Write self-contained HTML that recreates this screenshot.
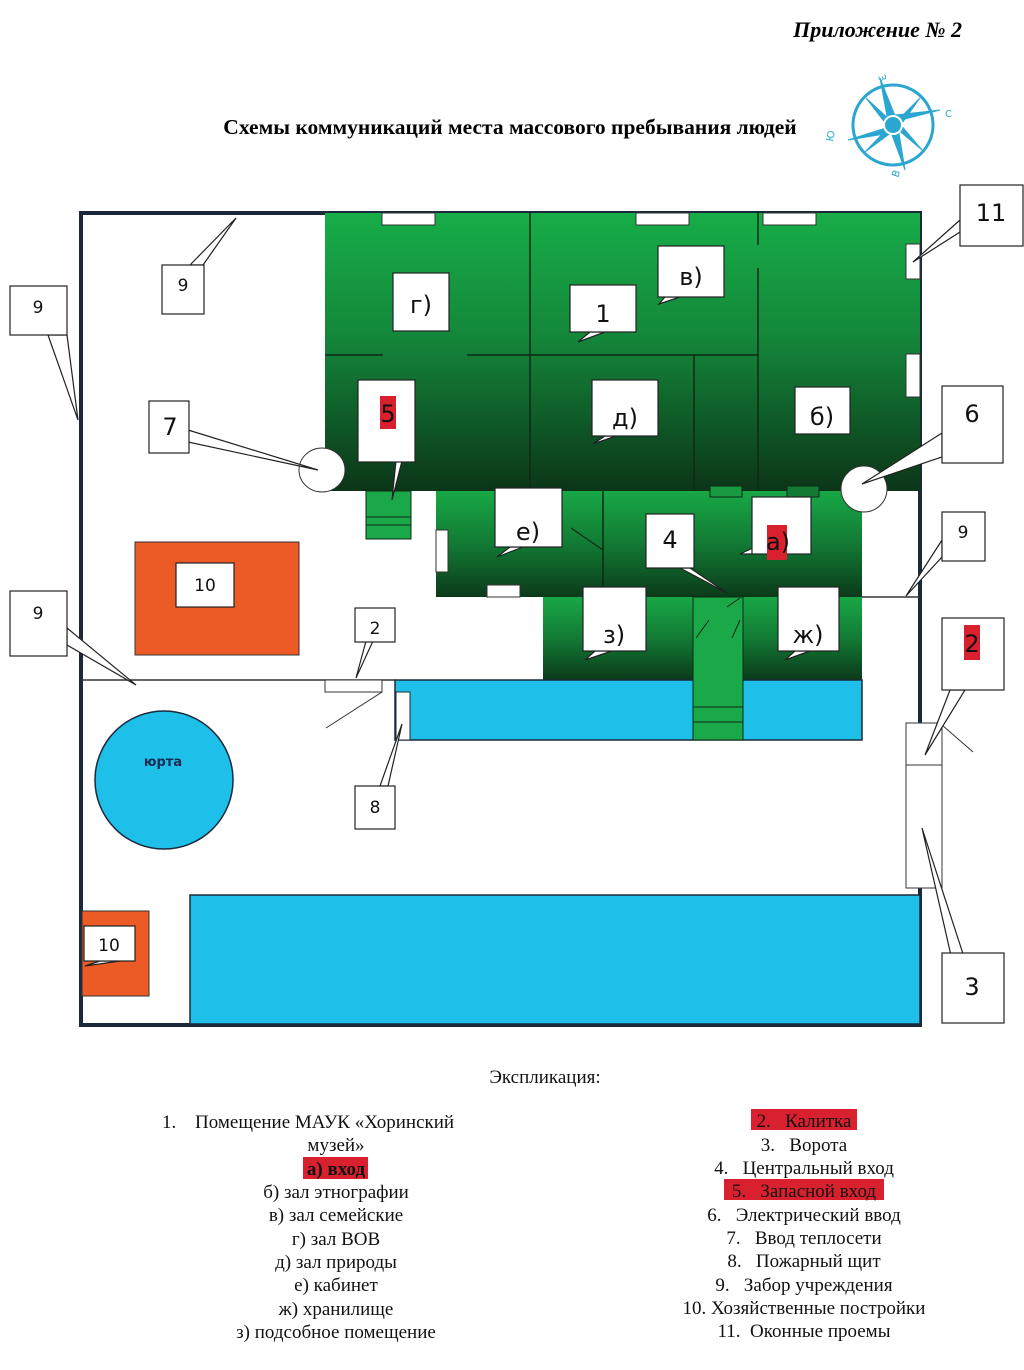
<!DOCTYPE html>
<html><head><meta charset="utf-8"><style>
html,body{margin:0;padding:0;background:#fff;}
svg{display:block;}
text{font-family:"Liberation Serif",serif;white-space:pre;}
.s{font-family:"DejaVu Sans","Liberation Sans",sans-serif;}
</style></head><body>
<svg width="1024" height="1370" viewBox="0 0 1024 1370" xmlns="http://www.w3.org/2000/svg" xml:space="preserve">
<defs>
<linearGradient id="g1" x1="0" y1="0" x2="0" y2="1">
<stop offset="0" stop-color="#17ad48"/><stop offset="0.45" stop-color="#14863a"/><stop offset="1" stop-color="#0b3518"/>
</linearGradient>
<linearGradient id="g2" x1="0" y1="0" x2="0" y2="1">
<stop offset="0" stop-color="#18a846"/><stop offset="0.5" stop-color="#127a34"/><stop offset="1" stop-color="#0b3a1a"/>
</linearGradient>
</defs>

<text x="962" y="37" font-size="22" font-weight="bold" font-style="italic" text-anchor="end">Приложение № 2</text>
<text x="510" y="134" font-size="21.5" font-weight="bold" text-anchor="middle">Схемы коммуникаций места массового пребывания людей</text>

<!-- compass -->
<g stroke="#2aa6d0" fill="#2aa6d0">
<circle cx="893" cy="125" r="40" fill="none" stroke-width="3"/>
<polygon points="880,78 897,121 889,127" /><polygon points="905,170 889,127 897,121"/>
<polygon points="848,140 889,127 891,133"/><polygon points="940,110 897,121 895,115"/>
<polygon points="866,98 890,120 886,124" /><polygon points="922,150 896,128 900,124"/>
<polygon points="865,152 888,128 892,132"/><polygon points="920,98 896,122 900,126"/>
<circle cx="893" cy="125" r="9" fill="#2aa6d0" stroke="#fff" stroke-width="2"/>
</g>
<text x="878" y="76" font-size="10" fill="#2aa6d0" class="s" transform="rotate(70 878 76)">З</text>
<text x="945" y="117" font-size="10" fill="#2aa6d0" class="s">С</text>
<text x="898" y="178" font-size="10" fill="#2aa6d0" class="s" transform="rotate(-70 898 178)">В</text>
<text x="828" y="136" font-size="10" fill="#2aa6d0" class="s" transform="rotate(-80 834 136)">Ю</text>

<!-- outer fence -->
<path d="M920,723 L920,213 L81,213 L81,1025 L920,1025 L920,888" fill="none" stroke="#1a2a3a" stroke-width="4"/>
<line x1="81" y1="680" x2="395" y2="680" stroke="#333" stroke-width="1.5"/>
<line x1="862" y1="597" x2="920" y2="597" stroke="#333" stroke-width="1.5"/>

<!-- main building -->
<rect x="325" y="213" width="595" height="278" fill="url(#g1)"/>
<g stroke="#0c2a14" stroke-width="1.5">
<line x1="530" y1="213" x2="530" y2="491"/>
<line x1="758" y1="213" x2="758" y2="245"/><line x1="758" y1="268" x2="758" y2="491"/>
<line x1="325" y1="355" x2="383" y2="355"/><line x1="467" y1="355" x2="758" y2="355"/>
<line x1="694" y1="355" x2="694" y2="491"/>
</g>
<g fill="#fff" stroke="#333" stroke-width="1">
<rect x="382" y="213" width="53" height="12"/><rect x="636" y="213" width="53" height="12"/><rect x="763" y="213" width="53" height="12"/>
<rect x="906" y="244" width="14" height="35"/><rect x="906" y="354" width="14" height="43"/>
</g>
<!-- lower block -->
<rect x="436" y="491" width="426" height="106" fill="url(#g2)"/>
<line x1="603" y1="491" x2="603" y2="597" stroke="#0c2a14" stroke-width="1.5"/>
<line x1="571" y1="528" x2="603" y2="550" stroke="#0c2a14" stroke-width="1.2"/>
<rect x="710" y="486" width="32" height="11" fill="#1a9a40" stroke="#0c2a14"/>
<rect x="787" y="486" width="32" height="11" fill="#137a34" stroke="#0c2a14"/>
<rect x="436" y="530" width="12" height="42" fill="#fff" stroke="#333"/>
<rect x="487" y="585" width="33" height="12" fill="#fff" stroke="#333"/>
<!-- stairs 5 -->
<rect x="366" y="491" width="45" height="48" fill="#1aa848" stroke="#0c2a14"/>
<line x1="366" y1="517" x2="411" y2="517" stroke="#0c2a14"/><line x1="366" y1="525" x2="411" y2="525" stroke="#0c2a14"/>
<!-- wings -->
<rect x="543" y="597" width="319" height="83" fill="url(#g2)"/>
<rect x="395" y="680" width="467" height="60" fill="#1ec0ea" stroke="#1a2a3a" stroke-width="1.5"/>
<rect x="693" y="597" width="50" height="143" fill="#1aa848" stroke="#0c2a14"/>
<g stroke="#0c2a14"><line x1="693" y1="707" x2="743" y2="707"/><line x1="693" y1="722" x2="743" y2="722"/>
<line x1="727" y1="607" x2="740" y2="598"/><line x1="696" y1="638" x2="709" y2="620"/><line x1="732" y1="638" x2="740" y2="620"/></g>
<rect x="396" y="692" width="14" height="48" fill="#fff" stroke="#1a2a3a"/>
<rect x="325" y="680" width="57" height="12" fill="#fff" stroke="#333"/>
<line x1="382" y1="692" x2="326" y2="728" stroke="#333"/>
<!-- ellipses 7 6 -->
<ellipse cx="322" cy="470" rx="23" ry="22" fill="#fff" stroke="#333"/>
<ellipse cx="864" cy="489" rx="23" ry="23" fill="#fff" stroke="#333"/>

<!-- outbuildings -->
<rect x="135" y="542" width="164" height="113" fill="#ec5a26" stroke="#333"/>
<rect x="82" y="911" width="67" height="85" fill="#ec5a26" stroke="#333"/>
<circle cx="164" cy="780" r="69" fill="#1ec0ea" stroke="#1a2a3a" stroke-width="1.5"/>
<text x="163" y="766" font-size="13" font-weight="bold" text-anchor="middle" class="s" fill="#1a2a50">юрта</text>
<rect x="190" y="895" width="730" height="129" fill="#1ec0ea" stroke="#1a2a3a" stroke-width="1.5"/>
<!-- gate -->
<rect x="906" y="723" width="36" height="165" fill="#fff" stroke="#333"/>
<line x1="906" y1="765" x2="942" y2="765" stroke="#333"/>
<line x1="942" y1="725" x2="973" y2="752" stroke="#333"/>

<!-- callouts -->
<g fill="#fff" stroke="#222" stroke-width="1.2">
<polygon points="190,265 236,218 203,265"/><rect x="162" y="265" width="42" height="49"/>
<polygon points="48,335 78,420 67,335"/><rect x="10" y="286" width="57" height="49"/>
<polygon points="188,430 318,470 188,442"/><rect x="149" y="401" width="40" height="52"/>
<polygon points="942,433 862,484 942,457"/><rect x="942" y="386" width="61" height="77"/>
<polygon points="960,220 913,262 960,232"/><rect x="960" y="185" width="63" height="61"/>
<polygon points="942,540 906,596 942,557"/><rect x="942" y="512" width="43" height="49"/>
<polygon points="950,690 925,755 965,690"/><rect x="942" y="618" width="62" height="72"/>
<polygon points="952,960 922,828 965,960"/><rect x="942" y="953" width="62" height="70"/>
<polygon points="67,628 136,685 67,645"/><rect x="10" y="591" width="57" height="65"/>
<polygon points="366,641 356,678 373,641"/><rect x="355" y="608" width="40" height="34"/>
<polygon points="380,786 402,724 388,786"/><rect x="355" y="786" width="40" height="43"/>
<polygon points="396,461 392,500 402,461"/><rect x="358" y="380" width="57" height="82"/>
</g>
<g fill="#fff" stroke="#222" stroke-width="1.2">
<rect x="393" y="273" width="56" height="58"/>
<polygon points="590,332 578,342 605,332"/><rect x="570" y="285" width="66" height="47"/>
<polygon points="665,297 659,304 680,297"/><rect x="658" y="246" width="66" height="51"/>
<polygon points="605,436 593,444 616,436"/><rect x="592" y="380" width="66" height="56"/>
<rect x="795" y="387" width="55" height="47"/>
<polygon points="510,547 497,557 523,547"/><rect x="495" y="488" width="67" height="59"/>
<polygon points="680,568 727,593 690,568"/><rect x="646" y="514" width="48" height="54"/>
<polygon points="755,547 740,554 755,554"/><rect x="752" y="497" width="59" height="57"/>
<polygon points="595,651 585,660 612,651"/><rect x="583" y="587" width="63" height="64"/>
<polygon points="795,651 785,660 810,651"/><rect x="778" y="587" width="61" height="64"/>
<rect x="176" y="563" width="58" height="44"/>
<polygon points="100,961 85,966 120,961"/><rect x="84" y="926" width="51" height="35"/>
</g>
<rect x="380" y="396" width="16" height="33" fill="#d8202e"/>
<rect x="767" y="525" width="20" height="35" fill="#d8202e"/>
<rect x="964" y="625" width="16" height="35" fill="#d8202e"/>

<g class="s" font-size="24" text-anchor="middle" fill="#111">
<text x="421" y="313" class="s">г)</text>
<text x="603" y="322" class="s">1</text>
<text x="691" y="285" class="s">в)</text>
<text x="625" y="426" class="s">д)</text>
<text x="822" y="425" class="s">б)</text>
<text x="388" y="422" class="s">5</text>
<text x="528" y="540" class="s">е)</text>
<text x="670" y="548" class="s">4</text>
<text x="778" y="550" class="s">а)</text>
<text x="614" y="643" class="s">з)</text>
<text x="808" y="643" class="s">ж)</text>
<text x="170" y="435" class="s">7</text>
<text x="972" y="422" class="s">6</text>
<text x="991" y="221" class="s">11</text>
<text x="972" y="652" class="s">2</text>
<text x="972" y="995" class="s">3</text>
</g>
<g class="s" font-size="17" text-anchor="middle" fill="#111">
<text x="183" y="291" class="s">9</text>
<text x="38" y="313" class="s">9</text>
<text x="38" y="619" class="s">9</text>
<text x="963" y="538" class="s">9</text>
<text x="375" y="634" class="s">2</text>
<text x="375" y="813" class="s">8</text>
<text x="205" y="591" class="s">10</text>
<text x="109" y="951" class="s">10</text>
</g>

<!-- legend -->
<g font-size="19" fill="#111">
<text x="545" y="1083" text-anchor="middle">Экспликация:</text>
<rect x="303" y="1157" width="65" height="22" fill="#d8202e"/>
<rect x="751" y="1109" width="106" height="21" fill="#d8202e"/>
<rect x="724" y="1179" width="160" height="21" fill="#d8202e"/>
<text x="162" y="1128">1.</text>
<text x="195" y="1128">Помещение МАУК «Хоринский</text>
<g text-anchor="middle">
<text x="336" y="1151">музей»</text>
<text x="336" y="1175" font-weight="bold">а) вход</text>
<text x="336" y="1198">б) зал этнографии</text>
<text x="336" y="1221">в) зал семейские</text>
<text x="336" y="1245">г) зал ВОВ</text>
<text x="336" y="1268">д) зал природы</text>
<text x="336" y="1291">е) кабинет</text>
<text x="336" y="1315">ж) хранилище</text>
<text x="336" y="1338">з) подсобное помещение</text>
<text x="804" y="1127">2.   Калитка</text>
<text x="804" y="1151">3.   Ворота</text>
<text x="804" y="1174">4.   Центральный вход</text>
<text x="804" y="1197">5.   Запасной вход</text>
<text x="804" y="1221">6.   Электрический ввод</text>
<text x="804" y="1244">7.   Ввод теплосети</text>
<text x="804" y="1267">8.   Пожарный щит</text>
<text x="804" y="1291">9.   Забор учреждения</text>
<text x="804" y="1314">10. Хозяйственные постройки</text>
<text x="804" y="1337">11.  Оконные проемы</text>
</g>
</g>
</svg>
</body></html>
